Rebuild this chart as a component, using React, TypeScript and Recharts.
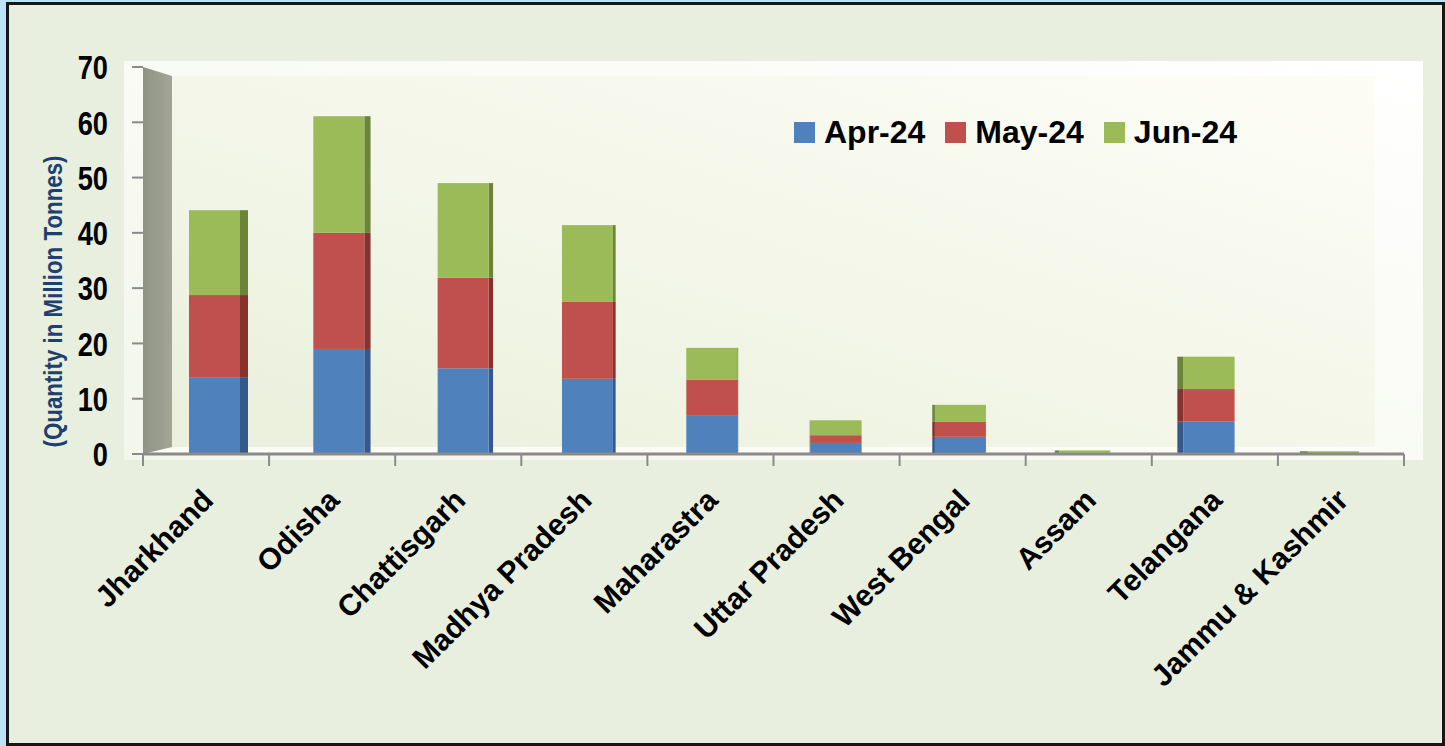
import React from "react"
import { BarChart, Bar, XAxis, YAxis } from "recharts"

const states = [
  "Jharkhand",
  "Odisha",
  "Chattisgarh",
  "Madhya Pradesh",
  "Maharastra",
  "Uttar Pradesh",
  "West Bengal",
  "Assam",
  "Telangana",
  "Jammu & Kashmir",
]
const apr24 = [13.9, 19.0, 15.5, 13.6, 6.9, 2.0, 3.1, 0.1, 5.85, 0.05]
const may24 = [14.85, 21.0, 16.4, 13.9, 6.5, 1.4, 2.7, 0.1, 5.9, 0.05]
const jun24 = [15.35, 21.1, 17.1, 13.9, 5.8, 2.7, 3.1, 0.45, 5.85, 0.4]
const yTicks = [0, 10, 20, 30, 40, 50, 60, 70]

const series = [
  { key: "apr", name: "Apr-24", color: "#4f81bd", side: "#36598a" },
  { key: "may", name: "May-24", color: "#c0504d", side: "#86332f" },
  { key: "jun", name: "Jun-24", color: "#9bbb59", side: "#6b843a" },
]

const data = states.map((s, i) => ({ state: s, apr: apr24[i], may: may24[i], jun: jun24[i] }))

const W = 1445
const H = 746
const PLOT_L = 143
const PLOT_R = 1404
const PLOT_T = 67
const PLOT_B = 454
const BAND = (PLOT_R - PLOT_L) / states.length
const AXIS_GREY = "#8a8a8a"

// perspective-ish 3D bar: front face nudged, dark side face on the outer edge
const Bar3D = (props: any) => {
  const { x, y, width, height, index, fill, sideFill } = props
  if (height == null || height <= 0) return null
  const shift = 8 - (index * 16) / (states.length - 1)
  const fx = x + shift
  const s = Math.abs(shift)
  const h = Math.max(height, 1)
  return (
    <g>
      {s > 0.8 && (
        <rect x={shift > 0 ? fx + width : fx - s} y={y} width={s} height={h} fill={sideFill} />
      )}
      <rect x={fx} y={y} width={width} height={h} fill={fill} />
    </g>
  )
}

const StateTick = ({ x, payload, index }: any) => {
  const ax = x + 9
  const ay = PLOT_B + 48
  const left = x - BAND / 2
  return (
    <g>
      <line x1={left} y1={PLOT_B} x2={left} y2={PLOT_B + 12} stroke={AXIS_GREY} strokeWidth={2} />
      {index === states.length - 1 && (
        <line x1={left + BAND} y1={PLOT_B} x2={left + BAND} y2={PLOT_B + 12} stroke={AXIS_GREY} strokeWidth={2} />
      )}
      <text
        x={ax}
        y={ay}
        transform={`rotate(-45, ${ax}, ${ay})`}
        textAnchor="end"
        fontFamily="'Liberation Sans', Arial, sans-serif"
        fontWeight="bold"
        fontSize={30}
        fill="#000"
      >
        {payload.value}
      </text>
    </g>
  )
}

const ValueTick = ({ x, y, payload }: any) => (
  <text
    transform={`translate(${x}, ${y}) scale(0.8, 1)`}
    textAnchor="end"
    dy="0.36em"
    fontFamily="'Liberation Sans', Arial, sans-serif"
    fontWeight="bold"
    fontSize={34}
    fill="#000"
  >
    {payload.value}
  </text>
)

const YLabel = ({ viewBox }: any) => {
  const cx = viewBox.x + 53
  const cy = viewBox.y + viewBox.height / 2 + 41
  return (
    <text
      x={cx}
      y={cy}
      transform={`rotate(-90, ${cx}, ${cy})`}
      textAnchor="middle"
      dominantBaseline="central"
      fontFamily="'Liberation Sans', Arial, sans-serif"
      fontWeight="bold"
      fontSize={26}
      textLength={292}
      lengthAdjust="spacingAndGlyphs"
      fill="#1f3f6f"
    >
      (Quantity in Million Tonnes)
    </text>
  )
}

const Backdrop = () => (
  <svg width={W} height={H} style={{ position: "absolute", left: 0, top: 0 }}>
    <defs>
      <linearGradient id="plotBg" x1="1" y1="0" x2="0" y2="1">
        <stop offset="0%" stopColor="#ffffff" />
        <stop offset="100%" stopColor="#f3f6ea" />
      </linearGradient>
      <linearGradient id="wallBg" x1="1" y1="0" x2="0" y2="1">
        <stop offset="0%" stopColor="#fdfdf6" />
        <stop offset="100%" stopColor="#eaf0dc" />
      </linearGradient>
      <linearGradient id="sideWall" x1="0" y1="0" x2="1" y2="0">
        <stop offset="0%" stopColor="#8f9384" />
        <stop offset="100%" stopColor="#a3a696" />
      </linearGradient>
    </defs>
    <rect x={124} y={61} width={1299} height={399} fill="url(#plotBg)" />
    <rect x={PLOT_L + 29} y={PLOT_T + 9} width={1375 - PLOT_L - 29} height={PLOT_B - 7 - PLOT_T - 9} fill="url(#wallBg)" />
    <polygon
      points={`${PLOT_L},${PLOT_B} ${PLOT_L + 29},${PLOT_B - 7} 1375,${PLOT_B - 7} ${PLOT_R},${PLOT_B}`}
      fill="#fbfcf6"
    />
    <polygon
      points={`${PLOT_L},${PLOT_T} ${PLOT_L + 29},${PLOT_T + 9} ${PLOT_L + 29},${PLOT_B - 7} ${PLOT_L},${PLOT_B}`}
      fill="url(#sideWall)"
    />
  </svg>
)

const LegendBox = () => (
  <div
    style={{
      position: "absolute",
      left: 794,
      top: 114,
      display: "flex",
      alignItems: "center",
      fontFamily: "'Liberation Sans', Arial, sans-serif",
      fontWeight: "bold",
      fontSize: 32,
      color: "#000",
      whiteSpace: "nowrap",
    }}
  >
    {series.map((s) => (
      <div key={s.key} style={{ display: "flex", alignItems: "center", marginRight: 20 }}>
        <span style={{ display: "inline-block", width: 21, height: 21, background: s.color, marginRight: 9 }} />
        <span>{s.name}</span>
      </div>
    ))}
  </div>
)

export default function App() {
  return (
    <div style={{ position: "absolute", left: 0, top: 0, width: W, height: H, background: "#bde2f6" }}>
      <div
        style={{
          position: "absolute",
          left: 6,
          top: 2,
          width: W - 6,
          height: H - 2,
          boxSizing: "border-box",
          border: "3px solid #161616",
          background: "#e8efdf",
        }}
      />
      <Backdrop />
      <div style={{ position: "absolute", left: 0, top: 0 }}>
        <BarChart
          width={W}
          height={H}
          data={data}
          barSize={51}
          margin={{ top: PLOT_T, right: W - PLOT_R, left: 0, bottom: 0 }}
        >
          <XAxis
            dataKey="state"
            height={H - PLOT_B}
            tickSize={0}
            tickMargin={0}
            interval={0}
            axisLine={{ stroke: AXIS_GREY, strokeWidth: 3 }}
            tickLine={false}
            tick={<StateTick />}
          />
          <YAxis
            domain={[0, 70]}
            ticks={yTicks}
            width={PLOT_L}
            tickSize={11}
            tickMargin={24}
            axisLine={false}
            tickLine={{ stroke: AXIS_GREY, strokeWidth: 2 }}
            tick={<ValueTick />}
            label={<YLabel />}
          />
          {series.map((s) => (
            <Bar
              key={s.key}
              dataKey={s.key}
              name={s.name}
              stackId="a"
              fill={s.color}
              isAnimationActive={false}
              shape={(p: any) => <Bar3D {...p} sideFill={s.side} />}
            />
          ))}
        </BarChart>
      </div>
      <LegendBox />
    </div>
  )
}
